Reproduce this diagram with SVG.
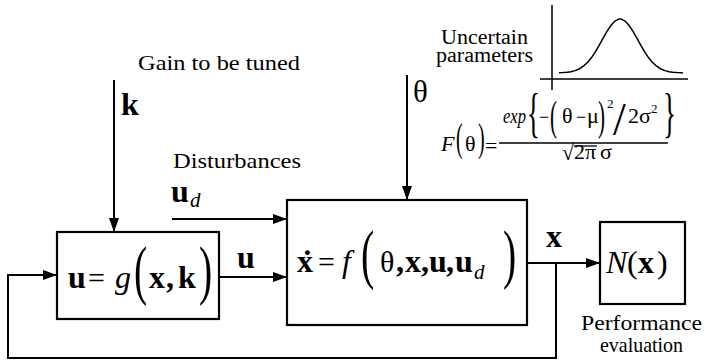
<svg xmlns="http://www.w3.org/2000/svg" width="705" height="361" viewBox="0 0 705 361">
<defs>
<marker id="ah" markerWidth="14" markerHeight="10" refX="14" refY="5" orient="auto" markerUnits="userSpaceOnUse">
<path d="M0,0 L14,5 L0,10 Z" fill="#000"/>
</marker>
<style>
text{font-family:'Liberation Serif','DejaVu Serif','Times New Roman',serif;fill:#000}
.b{font-weight:bold}
.i{font-style:italic}
.box{fill:#fff;stroke:#000;stroke-width:2.2}
.ar{fill:none;stroke:#000;stroke-width:2;marker-end:url(#ah)}
.ax{fill:none;stroke:#000;stroke-width:1.5}
</style>
</defs>
<rect width="705" height="361" fill="#fff"/>

<g id="connectors">
<line class="ar" x1="114" y1="80" x2="114" y2="232"/>
<line class="ar" x1="172" y1="219" x2="287" y2="219"/>
<line class="ar" x1="219" y1="277" x2="287" y2="277"/>
<line class="ar" x1="407" y1="75" x2="407" y2="200"/>
<line class="ar" x1="527" y1="263" x2="600" y2="263"/>
<polyline class="ar" points="556,263 556,358 8,358 8,275 57,275"/>
</g>

<g id="labels">
<text x="138" y="70" font-size="22" textLength="162" lengthAdjust="spacingAndGlyphs">Gain to be tuned</text>
<text class="b" x="121" y="115" font-size="32">k</text>
<text x="173" y="168" font-size="22" textLength="128" lengthAdjust="spacingAndGlyphs">Disturbances</text>
<text class="b" x="171" y="202" font-size="32">u</text>
<text class="i" x="190" y="207" font-size="21">d</text>
<text class="b" x="237" y="268" font-size="32">u</text>
<text x="413" y="102" font-size="31">θ</text>
<text class="b" x="546" y="247" font-size="32">x</text>
</g>

<g id="controller">
<rect class="box" x="57" y="232" width="162" height="87"/>
<text class="b" x="68" y="288" font-size="32">u</text>
<text x="88" y="288" font-size="30">=</text>
<text class="i" x="115" y="288" font-size="32">g</text>
<text transform="translate(134,292) scale(0.6,1)" font-size="66">(</text>
<text class="b" x="149" y="288" font-size="32">x</text>
<text class="b" x="166" y="288" font-size="32">,</text>
<text class="b" x="178" y="288" font-size="32">k</text>
<text transform="translate(199,292) scale(0.6,1)" font-size="66">)</text>
</g>

<g id="plant">
<rect class="box" x="287" y="200" width="240" height="125"/>
<text class="b" x="297" y="272" font-size="32">x</text>
<text class="b" x="302" y="272" font-size="32">˙</text>
<text x="318" y="272" font-size="30">=</text>
<text class="i" x="342" y="272" font-size="32">f</text>
<text transform="translate(361,276) scale(0.6,1)" font-size="66">(</text>
<text x="380" y="272" font-size="30">θ</text>
<text class="b" x="396" y="272" font-size="32">,</text>
<text class="b" x="405" y="272" font-size="32">x</text>
<text class="b" x="421" y="272" font-size="32">,</text>
<text class="b" x="429" y="272" font-size="32">u</text>
<text class="b" x="446" y="272" font-size="32">,</text>
<text class="b" x="455" y="272" font-size="32">u</text>
<text class="i" x="474" y="279" font-size="21">d</text>
<text transform="translate(503,276) scale(0.6,1)" font-size="66">)</text>
</g>

<g id="performance">
<rect class="box" x="600" y="222" width="85" height="82"/>
<text class="i" x="606" y="273" font-size="32">N</text>
<text x="627" y="273" font-size="32">(</text>
<text class="b" x="638" y="273" font-size="32">x</text>
<text x="657" y="273" font-size="32">)</text>
<text x="581" y="330" font-size="21" textLength="121" lengthAdjust="spacingAndGlyphs">Performance</text>
<text x="600" y="352" font-size="21" textLength="83" lengthAdjust="spacingAndGlyphs">evaluation</text>
</g>

<g id="uncertain">
<text x="441" y="44" font-size="20" textLength="87" lengthAdjust="spacingAndGlyphs">Uncertain</text>
<text x="436" y="62" font-size="20" textLength="97" lengthAdjust="spacingAndGlyphs">parameters</text>
<line class="ax" x1="552" y1="5" x2="552" y2="90"/>
<line class="ax" x1="540" y1="79" x2="688" y2="79"/>
<polyline class="ax" stroke-width="2" points="559,72.8 563,72.6 567,72.3 571,71.7 575,70.6 579,69 583,66.5 587,62.9 591,58.3 595,52.4 599,45.7 603,38.4 607,31.4 611,25.3 615,21 619,19.1 620,19 621,19.1 625,21 629,25.3 633,31.4 637,38.4 641,45.7 645,52.4 649,58.3 653,62.9 657,66.5 661,69 665,70.6 669,71.7 673,72.3 677,72.6 681,72.8 683,72.9"/>
<text class="i" x="441" y="151" font-size="22">F</text>
<text transform="translate(456,151) scale(0.5,1)" font-size="40">(</text>
<text x="465" y="151" font-size="22">θ</text>
<text transform="translate(478,151) scale(0.5,1)" font-size="40">)</text>
<text x="485" y="153" font-size="22">=</text>
<line x1="499" y1="143" x2="668" y2="143" stroke="#000" stroke-width="1.5"/>
<text class="i" x="503" y="123" font-size="22" textLength="23" lengthAdjust="spacingAndGlyphs">exp</text>
<text transform="translate(527,131) scale(0.5,1)" font-size="54">{</text>
<text x="539" y="123" font-size="18">−</text>
<text transform="translate(550,130) scale(0.5,1)" font-size="42">(</text>
<text x="562" y="123" font-size="22">θ</text>
<text x="576" y="123" font-size="18">−</text>
<text x="587" y="123" font-size="22">μ</text>
<text transform="translate(598,130) scale(0.5,1)" font-size="42">)</text>
<text x="607" y="108" font-size="13">2</text>
<text x="613" y="135" font-size="46">/</text>
<text x="628" y="123" font-size="22">2σ</text>
<text x="651" y="113" font-size="13">2</text>
<text transform="translate(663,131) scale(0.5,1)" font-size="54">}</text>
<text x="562" y="160" font-size="22">√</text>
<line x1="574" y1="146" x2="597" y2="146" stroke="#000" stroke-width="1.3"/>
<text x="574" y="159" font-size="22">2π</text>
<text x="600" y="159" font-size="22">σ</text>
</g>
</svg>
